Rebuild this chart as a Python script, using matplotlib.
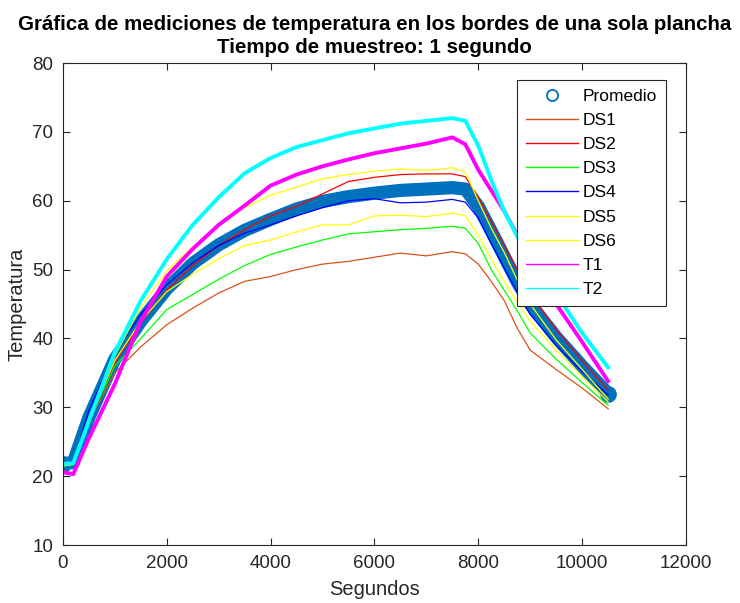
import matplotlib.pyplot as plt
from matplotlib.lines import Line2D

plt.rcParams['font.family'] = ['Liberation Sans', 'DejaVu Sans']

# tiempo de muestreo (s)
segundos = [0, 200, 500, 1000, 1500, 2000, 2500, 3000, 3500, 4000, 4500, 5000, 5500,
            6000, 6500, 7000, 7500, 7750, 8000, 8250, 8500, 8750, 9000, 9500, 10000, 10500]

promedio = [21.8, 22.0, 28.5, 37.0, 42.5, 47.2, 50.9, 53.6, 55.7, 57.3, 58.8, 59.9, 60.6,
            61.1, 61.5, 61.7, 61.9, 61.7, 59.2, 55.6, 51.9, 48.2, 45.0, 40.2, 36.0, 32.0]
ds1 = [21.5, 21.8, 28.0, 35.0, 38.8, 42.0, 44.4, 46.6, 48.3, 49.0, 50.0, 50.8, 51.2,
       51.8, 52.4, 52.0, 52.6, 52.3, 50.8, 48.3, 45.5, 41.5, 38.3, 35.5, 32.8, 29.8]
ds2 = [21.6, 21.8, 28.0, 36.5, 42.3, 47.0, 50.6, 53.5, 55.8, 57.8, 59.2, 61.0, 62.8,
       63.4, 63.8, 63.9, 63.9, 63.5, 60.5, 57.0, 53.5, 50.0, 46.5, 41.3, 36.8, 32.5]
ds3 = [21.5, 21.7, 28.2, 36.0, 40.0, 44.2, 46.4, 48.6, 50.6, 52.2, 53.3, 54.3, 55.2,
       55.5, 55.8, 56.0, 56.3, 56.0, 53.8, 50.0, 47.0, 44.0, 40.8, 37.0, 33.6, 30.3]
ds4 = [21.8, 22.0, 29.5, 38.0, 43.5, 47.8, 51.0, 53.5, 55.3, 56.5, 57.8, 59.0, 60.0,
       60.3, 59.7, 59.8, 60.2, 59.8, 57.5, 53.8, 50.2, 46.8, 43.5, 39.0, 35.2, 31.8]
ds5 = [21.6, 21.8, 28.5, 37.5, 44.5, 49.8, 53.3, 56.5, 59.0, 60.8, 62.0, 63.2, 63.8,
       64.3, 64.6, 64.4, 64.8, 64.2, 60.0, 56.0, 52.5, 48.5, 45.0, 39.8, 35.5, 31.2]
ds6 = [21.5, 21.7, 28.2, 36.8, 42.5, 46.8, 49.3, 51.6, 53.5, 54.3, 55.5, 56.5, 56.5,
       57.8, 57.9, 57.7, 58.2, 57.8, 55.0, 51.5, 48.3, 45.2, 42.5, 38.3, 34.5, 30.8]
t1 = [20.6, 20.3, 25.5, 33.4, 42.5, 49.0, 53.0, 56.5, 59.3, 62.2, 63.8, 65.0, 66.0,
      66.9, 67.6, 68.3, 69.2, 68.2, 64.5, 61.5, 58.5, 55.0, 51.0, 45.0, 39.5, 33.8]
t2 = [21.8, 21.9, 28.0, 38.0, 45.5, 51.5, 56.5, 60.5, 64.0, 66.2, 67.8, 68.8, 69.8,
      70.5, 71.2, 71.6, 72.0, 71.6, 68.0, 63.0, 58.5, 54.8, 51.8, 46.5, 40.8, 35.8]

etiquetas = ["Promedio", "DS1", "DS2", "DS3", "DS4", "DS5", "DS6", "T1", "T2"]

series = [(ds1, "#D95319", 0.9), (ds2, "#FF0000", 0.9),
          (ds3, "#00FF00", 0.9), (ds4, "#0000FF", 0.9),
          (ds5, "#FFFF00", 0.9), (ds6, "#FFFF00", 0.9),
          (t1, "#FF00FF", 2.8), (t2, "#00FFFF", 2.8)]

fig = plt.figure(figsize=(7.40, 6.03), dpi=100)
ax = fig.add_axes([0.085, 0.096, 0.842, 0.7995])

azul = "#0072BD"
ax.plot(segundos, promedio, color=azul, lw=9.5, solid_capstyle='round',
        solid_joinstyle='round', marker='o', ms=11, markevery=[0, len(segundos) - 1],
        mfc=azul, mec=azul)

handles = [Line2D([], [], color=azul, marker='o', ls='none', mfc='none', ms=8, mew=1.3)]
for vals, col, lw in series:
    ax.plot(segundos, vals, color=col, lw=lw)
    handles.append(Line2D([], [], color=col, lw=1.0))

ax.set_xlim(0, 12000)
ax.set_ylim(10, 80)
ax.set_xticks(range(0, 12001, 2000))
ax.set_yticks(range(10, 81, 10))
ax.tick_params(direction='in', top=True, right=True, length=5, width=0.8,
               labelsize=13.5, colors='#262626', pad=7)
for s in ax.spines.values():
    s.set_color('#262626')
    s.set_linewidth(0.8)

ax.set_xlabel("Segundos", fontsize=14.5, color='#262626', labelpad=6)
ax.set_ylabel("Temperatura", fontsize=14.5, color='#262626', labelpad=4)
ax.set_title("Gráfica de mediciones de temperatura en los bordes de una sola plancha\n"
             "Tiempo de muestreo: 1 segundo", fontsize=14.8, fontweight='bold', pad=7,
             linespacing=1.3)

leg = ax.legend(handles, etiquetas, loc='upper right', bbox_to_anchor=(0.968, 0.965),
                fontsize=12.5, fancybox=False, framealpha=1, edgecolor='#262626',
                handlelength=3.0, labelspacing=0.52, borderpad=0.5, handletextpad=0.3,
                borderaxespad=0)
leg.get_frame().set_linewidth(0.8)

fig.savefig("out.png", dpi=100)
